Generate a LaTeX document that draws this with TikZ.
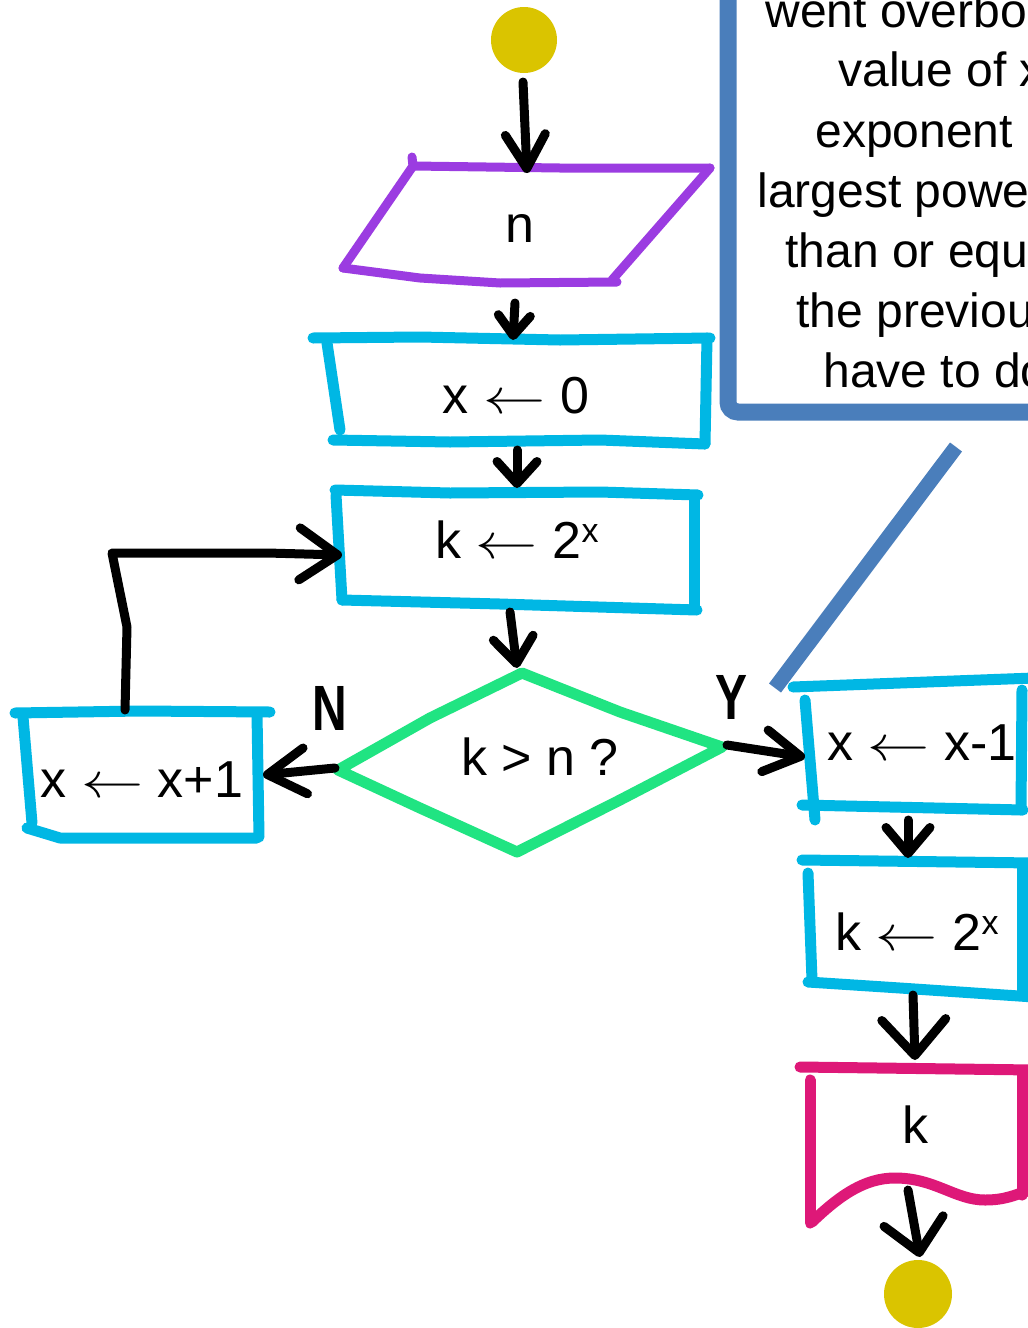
\documentclass[tikz,border=0pt]{standalone}
\usepackage{fontspec}
\setmainfont{Liberation Sans}
\usetikzlibrary{arrows.meta}
\definecolor{yel}{RGB}{218,196,0}
\definecolor{pur}{RGB}{155,60,225}
\definecolor{cya}{RGB}{0,183,228}
\definecolor{grn}{RGB}{32,228,130}
\definecolor{mag}{RGB}{222,24,120}
\definecolor{blu}{RGB}{74,126,187}
\newcommand\supx{\raisebox{8pt}{\fontsize{17}{17}\selectfont x}}
\newcommand\larr{\scalebox{1.25}[1]{$\leftarrow$}}
\begin{document}
\begin{tikzpicture}[x=0.5pt,y=-0.5pt,
  every node/.style={inner sep=0pt},
  lbl/.style={font=\fontsize{26}{30}\selectfont, anchor=base},
  note/.style={font=\fontsize{24}{30}\selectfont, anchor=base west},
  yn/.style={font=\fontsize{32}{32}\selectfont\bfseries, xscale=0.75},
  cyb/.style={draw=cya, line width=5.5pt, line cap=round, line join=round},
  pb/.style={draw=pur, line width=4.5pt, line cap=round, line join=round},
  gb/.style={draw=grn, line width=5.5pt, line cap=round, line join=round},
  mb/.style={draw=mag, line width=5.5pt, line cap=round, line join=round},
  bb/.style={draw=blu, line width=8pt},
  con/.style={draw=black, line width=4.5pt, line cap=round, line join=round},
  ahead/.style 2 args={-{Straight Barb[length=#1pt,width=#2pt,round]}},
  term/.style={circle, fill=yel, draw=none}
]
\useasboundingbox (0,0) rectangle (1028,1328);
\fill[white] (0,0) rectangle (1028,1328);
\clip (0,0) rectangle (1028,1328);

% ---------- note box (cut off at right and top) ----------
\draw[bb, line width=8.5pt, rounded corners=5pt] (728,-60) -- (728,412) -- (1120,412);
\coordinate (callA) at (956,447);
\coordinate (callB) at (775,688);
\draw[bb, line width=7.5pt] (callA) -- (callB);
\node[note] (l1) at (765,27) {went overboard,};
\node[note] (l2) at (838,86) {value of x};
\node[note] (l3) at (815,147) {exponent};
\node[note] (l4) at (757,207) {largest power};
\node[note] (l5) at (785,267) {than or equal};
\node[note] (l6) at (796,327) {the previous};
\node[note] (l7) at (823,387) {have to do};

% ---------- terminals ----------
\node[term, minimum size=33pt] (start) at (524,40) {};
\node[term, minimum size=34pt] (stop) at (918,1294) {};

% ---------- input parallelogram ----------
\draw[pb] (412,157) -- (413,166) -- (560,168) -- (710,168);
\draw[pb] (710,168) -- (612,280);
\draw[pb] (343,268) -- (420,278) -- (500,283) -- (617,282);
\draw[pb] (413,166) -- (343,268);
\node[lbl] (tn) at (520,242) {n};

% ---------- x <- 0 ----------
\draw[cyb] (313,338) -- (420,337) -- (560,340) -- (710,338);
\draw[cyb] (327,343) -- (340,430);
\draw[cyb] (333,440) -- (450,442) -- (600,440) -- (705,444);
\draw[cyb] (707,338) -- (705,444);
\node[lbl] (tx0) at (516,413) {x \larr{} 0};

% ---------- k <- 2^x ----------
\draw[cyb] (335,490) -- (450,493) -- (600,492) -- (698,495);
\draw[cyb] (336,495) -- (342,600);
\draw[cyb] (342,600) -- (500,604) -- (697,610);
\draw[cyb] (694,497) -- (694,608);
\node[lbl] (tk) at (517,558) {k \larr{} 2\supx};

% ---------- decision ----------
\draw[gb] (338,770) -- (430,718) -- (522,673) -- (620,712) -- (722,747) -- (620,800) -- (517,852) -- (420,808) -- cycle;
\node[lbl] (tq) at (540,775) {k > n ?};

% ---------- x <- x+1 ----------
\draw[cyb] (15,713) -- (140,711) -- (270,712);
\draw[cyb] (23,717) -- (32,823);
\draw[cyb] (27,828) -- (60,838) -- (257,838);
\draw[cyb] (257,713) -- (259,837);
\node[lbl] (txp) at (142,797) {x \larr{} x+1};

% ---------- x <- x-1 ----------
\draw[cyb] (793,687) -- (900,683) -- (1034,678);
\draw[cyb] (805,700) -- (815,820);
\draw[cyb] (802,805) -- (1023,810);
\draw[cyb] (1022,690) -- (1021,810);
\node[lbl] (txm) at (922,760) {x \larr{} x-1};

% ---------- k <- 2^x (2) ----------
\draw[cyb] (802,860) -- (1034,863);
\draw[cyb] (808,873) -- (812,980);
\draw[cyb] (808,982) -- (900,988) -- (1034,997);
\draw[cyb] (1022,865) -- (1022,992);
\node[lbl] (tk2) at (917,950) {k \larr{} 2\supx};

% ---------- output document ----------
\draw[mb] (800,1067) -- (1034,1070);
\draw[mb] (810,1080) -- (810,1223);
\draw[mb] (812,1222) .. controls (840,1195) and (865,1178) .. (895,1178)
          .. controls (935,1178) and (955,1200) .. (985,1200)
          .. controls (1005,1200) and (1015,1195) .. (1030,1190);
\draw[mb] (1022,1072) -- (1022,1195);
\node[lbl] (tout) at (915,1143) {k};

% ---------- labels ----------
\node[yn] (labN) at (330,708) {N};
\node[yn] (labY) at (731,697) {Y};

% ---------- connector end points ----------
\coordinate (startO) at (523,82);
\coordinate (nI) at (527,173);
\coordinate (nO) at (515,303);
\coordinate (x0I) at (513,340);
\coordinate (x0O) at (517,450);
\coordinate (kI) at (517,488);
\coordinate (kO) at (510,612);
\coordinate (dI) at (517,668);
\coordinate (dL) at (335,768);
\coordinate (xpI) at (263,775);
\coordinate (xpO) at (125,710);
\coordinate (kL) at (342,555);
\coordinate (dR) at (727,745);
\coordinate (xmI) at (805,757);
\coordinate (xmO) at (908,820);
\coordinate (k2I) at (908,858);
\coordinate (k2O) at (913,995);
\coordinate (docI) at (915,1060);
\coordinate (docO) at (908,1190);
\coordinate (stopI) at (920,1257);

% ---------- connectors ----------
\draw[con, ahead={17}{20}] (startO) -- (nI);
\draw[con, ahead={10}{16}] (nO) -- (x0I);
\draw[con, ahead={11}{20}] (x0O) -- (kI);
\draw[con, ahead={13}{20}] (kO) -- (dI);
\draw[con, ahead={19}{23}] (dL) -- (xpI);
\draw[con, ahead={19}{26}] (xpO) -- (127,627) -- (112,553) -- (267,553) -- (kL);
\draw[con, ahead={18}{21}] (dR) -- (xmI);
\draw[con, ahead={13}{22}] (xmO) -- (k2I);
\draw[con, ahead={18}{32}] (k2O) -- (docI);
\draw[con, ahead={16}{30}] (docO) -- (stopI);
\end{tikzpicture}
\end{document}
